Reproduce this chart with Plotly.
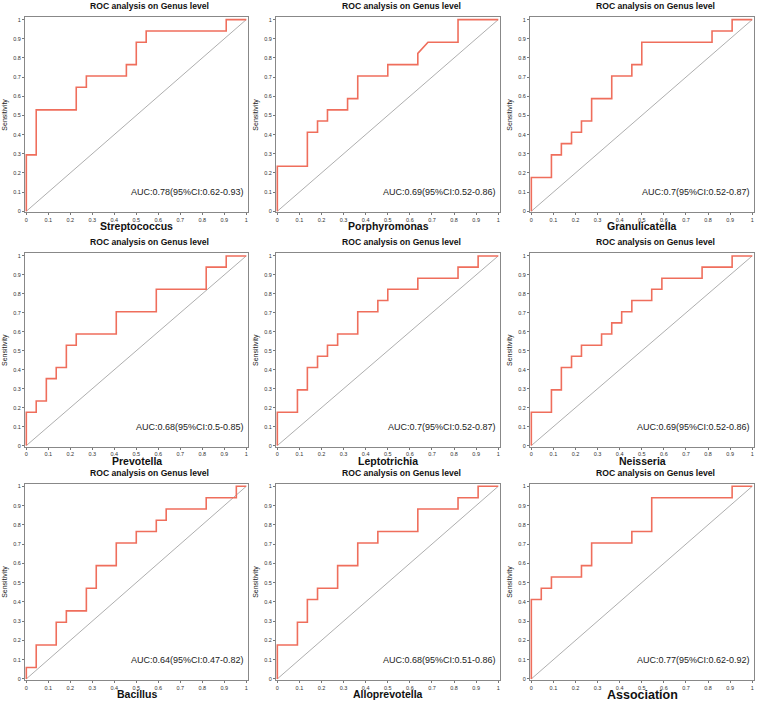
import plotly.graph_objects as go

# ROC step curves (x = 1 - specificity, y = sensitivity)
genera = ["Streptococcus", "Porphyromonas", "Granulicatella",
          "Prevotella", "Leptotrichia", "Neisseria",
          "Bacillus", "Alloprevotella", "Association"]

auc_labels = ["AUC:0.78(95%CI:0.62-0.93)", "AUC:0.69(95%CI:0.52-0.86)", "AUC:0.7(95%CI:0.52-0.87)",
              "AUC:0.68(95%CI:0.5-0.85)", "AUC:0.7(95%CI:0.52-0.87)", "AUC:0.69(95%CI:0.52-0.86)",
              "AUC:0.64(95%CI:0.47-0.82)", "AUC:0.68(95%CI:0.51-0.86)", "AUC:0.77(95%CI:0.62-0.92)"]

strep_x = [0, 0, 0.045, 0.045, 0.227, 0.227, 0.273, 0.273, 0.455, 0.455, 0.5, 0.5, 0.545, 0.545, 0.909, 0.909, 1]
strep_y = [0, 0.294, 0.294, 0.529, 0.529, 0.647, 0.647, 0.706, 0.706, 0.765, 0.765, 0.882, 0.882, 0.941, 0.941, 1, 1]

porph_x = [0, 0, 0.136, 0.136, 0.182, 0.182, 0.227, 0.227, 0.318, 0.318, 0.364, 0.364, 0.5, 0.5, 0.636, 0.636, 0.682, 0.818, 0.818, 1]
porph_y = [0, 0.235, 0.235, 0.412, 0.412, 0.471, 0.471, 0.529, 0.529, 0.588, 0.588, 0.706, 0.706, 0.765, 0.765, 0.824, 0.882, 0.882, 1, 1]

granu_x = [0, 0, 0.091, 0.091, 0.136, 0.136, 0.182, 0.182, 0.227, 0.227, 0.273, 0.273, 0.364, 0.364, 0.455, 0.455, 0.5, 0.5, 0.818, 0.818, 0.909, 0.909, 1]
granu_y = [0, 0.176, 0.176, 0.294, 0.294, 0.353, 0.353, 0.412, 0.412, 0.471, 0.471, 0.588, 0.588, 0.706, 0.706, 0.765, 0.765, 0.882, 0.882, 0.941, 0.941, 1, 1]

prevo_x = [0, 0, 0.045, 0.045, 0.091, 0.091, 0.136, 0.136, 0.182, 0.182, 0.227, 0.227, 0.409, 0.409, 0.591, 0.591, 0.818, 0.818, 0.909, 0.909, 1]
prevo_y = [0, 0.176, 0.176, 0.235, 0.235, 0.353, 0.353, 0.412, 0.412, 0.529, 0.529, 0.588, 0.588, 0.706, 0.706, 0.824, 0.824, 0.941, 0.941, 1, 1]

lepto_x = [0, 0, 0.091, 0.091, 0.136, 0.136, 0.182, 0.182, 0.227, 0.227, 0.273, 0.273, 0.364, 0.364, 0.455, 0.455, 0.5, 0.5, 0.636, 0.636, 0.818, 0.818, 0.909, 0.909, 1]
lepto_y = [0, 0.176, 0.176, 0.294, 0.294, 0.412, 0.412, 0.471, 0.471, 0.529, 0.529, 0.588, 0.588, 0.706, 0.706, 0.765, 0.765, 0.824, 0.824, 0.882, 0.882, 0.941, 0.941, 1, 1]

neiss_x = [0, 0, 0.091, 0.091, 0.136, 0.136, 0.182, 0.182, 0.227, 0.227, 0.318, 0.318, 0.364, 0.364, 0.409, 0.409, 0.455, 0.455, 0.545, 0.545, 0.591, 0.591, 0.773, 0.773, 0.909, 0.909, 1]
neiss_y = [0, 0.176, 0.176, 0.294, 0.294, 0.412, 0.412, 0.471, 0.471, 0.529, 0.529, 0.588, 0.588, 0.647, 0.647, 0.706, 0.706, 0.765, 0.765, 0.824, 0.824, 0.882, 0.882, 0.941, 0.941, 1, 1]

bacil_x = [0, 0, 0.045, 0.045, 0.136, 0.136, 0.182, 0.182, 0.273, 0.273, 0.318, 0.318, 0.409, 0.409, 0.5, 0.5, 0.591, 0.591, 0.636, 0.636, 0.818, 0.818, 0.955, 0.955, 1]
bacil_y = [0, 0.059, 0.059, 0.176, 0.176, 0.294, 0.294, 0.353, 0.353, 0.471, 0.471, 0.588, 0.588, 0.706, 0.706, 0.765, 0.765, 0.824, 0.824, 0.882, 0.882, 0.941, 0.941, 1, 1]

allop_x = [0, 0, 0.091, 0.091, 0.136, 0.136, 0.182, 0.182, 0.273, 0.273, 0.364, 0.364, 0.455, 0.455, 0.636, 0.636, 0.818, 0.818, 0.909, 0.909, 1]
allop_y = [0, 0.176, 0.176, 0.294, 0.294, 0.412, 0.412, 0.471, 0.471, 0.588, 0.588, 0.706, 0.706, 0.765, 0.765, 0.882, 0.882, 0.941, 0.941, 1, 1]

assoc_x = [0, 0, 0.045, 0.045, 0.091, 0.091, 0.227, 0.227, 0.273, 0.273, 0.455, 0.455, 0.545, 0.545, 0.909, 0.909, 1]
assoc_y = [0, 0.412, 0.412, 0.471, 0.471, 0.529, 0.529, 0.588, 0.588, 0.706, 0.706, 0.765, 0.765, 0.941, 0.941, 1, 1]

curves = [(strep_x, strep_y), (porph_x, porph_y), (granu_x, granu_y),
          (prevo_x, prevo_y), (lepto_x, lepto_y), (neiss_x, neiss_y),
          (bacil_x, bacil_y), (allop_x, allop_y), (assoc_x, assoc_y)]

ticks = [0, 0.1, 0.2, 0.3, 0.4, 0.5, 0.6, 0.7, 0.8, 0.9, 1]
tick_text = ["0", "0.1", "0.2", "0.3", "0.4", "0.5", "0.6", "0.7", "0.8", "0.9", "1"]

W, H = 757, 703
FONT = "Arial, Liberation Sans, sans-serif"
# plot boxes in pixels
cols = [(25, 248), (276, 500), (530, 754)]
rows = [(17, 213), (254, 448), (485, 682)]

fig = go.Figure()
layout = dict(width=W, height=H, margin=dict(l=0, r=0, t=0, b=0),
              paper_bgcolor="white", plot_bgcolor="white", showlegend=False,
              annotations=[])

for i, name in enumerate(genera):
    r, c = divmod(i, 3)
    x0, x1 = cols[c]
    y0, y1 = rows[r]
    n = "" if i == 0 else str(i + 1)
    xa, ya = "x" + n, "y" + n
    axis_common = dict(tickvals=ticks, ticktext=tick_text, ticks="outside",
                       ticklen=2, tickwidth=0.8, tickcolor="#777", showgrid=False, zeroline=False,
                       showline=True, linecolor="#888", linewidth=1, mirror=True,
                       tickfont=dict(family=FONT, size=5.5, color="#333"))
    layout["xaxis" + n] = dict(axis_common, range=[-0.006, 1.008], domain=[x0 / W, x1 / W], anchor=ya)
    layout["yaxis" + n] = dict(axis_common, range=[-0.006, 1.014], domain=[1 - y1 / H, 1 - y0 / H], anchor=xa)

    fig.add_trace(go.Scatter(x=[0, 1], y=[0, 1], mode="lines", xaxis=xa, yaxis=ya,
                             line=dict(color="#999", width=0.8)))
    cx, cy = curves[i]
    fig.add_trace(go.Scatter(x=cx, y=cy, mode="lines", xaxis=xa, yaxis=ya,
                             line=dict(color="#EF6E5C", width=1.6)))

    ann = layout["annotations"]
    ann.append(dict(text="<b>ROC analysis on Genus level</b>", xref="paper", yref="paper",
                    x=((x0 + x1) / 2 + 13) / W, y=1 - (y0 - 11) / H, showarrow=False,
                    font=dict(family=FONT, size=8.6, color="#111"), xanchor="center", yanchor="middle"))
    big = name == "Association"
    ann.append(dict(text="<b>" + name + "</b>", xref="paper", yref="paper",
                    x=(x0 + x1) / 2 / W, y=1 - (y1 + (15 if big else 14)) / H, showarrow=False,
                    font=dict(family=FONT, size=12.5 if big else 10.5, color="#111"),
                    xanchor="center", yanchor="middle"))
    ann.append(dict(text="Sensitivity", xref="paper", yref="paper", textangle=-90,
                    x=(x0 - 20) / W, y=1 - (y0 + y1) / 2 / H, showarrow=False,
                    font=dict(family=FONT, size=7, color="#222"), xanchor="center", yanchor="middle"))
    ann.append(dict(text=auc_labels[i], xref=xa, yref=ya, x=1.0, y=0.1, showarrow=False,
                    font=dict(family=FONT, size=9, color="#222"), xanchor="right", yanchor="middle"))

fig.update_layout(**layout)
fig.write_html("out.html", config={"displayModeBar": False},
               post_script="document.body.style.margin='0';document.documentElement.style.overflow='hidden';")
